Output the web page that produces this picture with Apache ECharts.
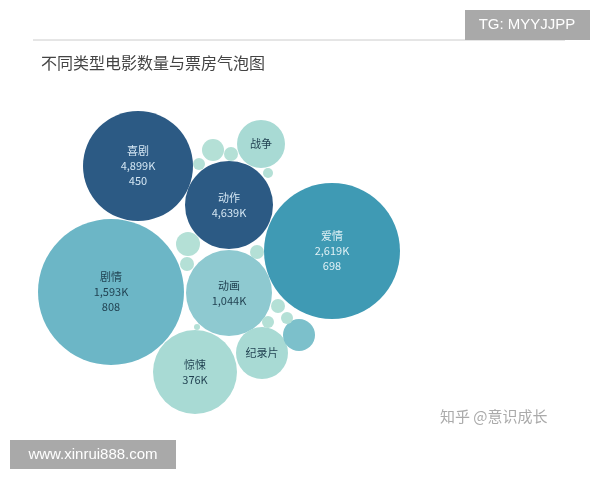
<!DOCTYPE html>
<html><head><meta charset="utf-8">
<script src="https://cdn.jsdelivr.net/npm/echarts@6/dist/echarts.min.js"></script>
<style>html,body{margin:0;background:#fff}#c{width:600px;height:480px}</style>
</head><body><div id="c"></div>
<script>
// genre bubbles: name, box office text, count text
const names = ['喜剧', '动作', '战争', '爱情', '剧情', '动画', '惊悚', '纪录片', '', '', '', '', '', '', '', '', '', '', '', ''];
const boxOffice = ['4,899K', '4,639K', '', '2,619K', '1,593K', '1,044K', '376K', '', '', '', '', '', '', '', '', '', '', '', '', ''];
const counts = ['450', '', '', '698', '808', '', '', '', '', '', '', '', '', '', '', '', '', '', '', ''];
// packed layout positions (chart units) and radii
const posX = [138, 229, 261, 332, 111, 229, 195, 262, 299, 213, 231, 199, 268, 188, 187, 257, 278, 287, 268, 197];
const posY = [166, 205, 144, 251, 292, 293, 372, 353, 335, 150, 154, 164, 173, 244, 264, 252, 306, 318, 322, 327];
const radius = [55, 44, 24, 68, 73, 43, 42, 26, 16, 11, 7, 6, 5, 12, 7, 7, 7, 6, 6, 3];
const colors = ['#2c5a84', '#2c5a84', '#a8dad4', '#3f9ab4', '#6cb6c6', '#8ec9d0', '#a8dad4', '#a8dad4', '#7cc0cb',
  '#b4e0d6', '#b4e0d6', '#b4e0d6', '#b4e0d6', '#b4e0d6', '#b4e0d6', '#b4e0d6', '#b4e0d6', '#b4e0d6', '#b4e0d6', '#b4e0d6'];

const data = names.map((n, i) => ({
  value: [posX[i], posY[i]],
  symbolSize: radius[i] * 2,
  itemStyle: { color: colors[i], opacity: 1 },
  label: {
    show: !!n,
    formatter: [n, boxOffice[i], counts[i]].filter(Boolean).join('\n'),
    color: colors[i] === '#2c5a84' ? '#d4e6f3' : (colors[i] === '#3f9ab4' ? '#e0f1f5' : '#1f3f4f')
  }
}));

const chart = echarts.init(document.getElementById('c'));
chart.setOption({
  animation: false,
  grid: { left: 0, right: 0, top: 0, bottom: 0 },
  xAxis: { type: 'value', min: 0, max: 600, show: false },
  yAxis: { type: 'value', min: 0, max: 480, inverse: true, show: false },
  title: {
    text: '不同类型电影数量与票房气泡图', left: 36, top: 50,
    textStyle: { fontSize: 16, fontWeight: 'normal', color: '#444', fontFamily: 'Noto Sans CJK SC' }
  },
  graphic: [
    { type: 'line', shape: { x1: 33, y1: 40, x2: 565, y2: 40 }, style: { stroke: '#ccc', lineWidth: 1 } },
    { type: 'rect', shape: { x: 465, y: 10, width: 125, height: 30 }, style: { fill: '#a9a9a9' } },
    { type: 'text', x: 527, y: 25, style: { text: 'TG: MYYJJPP', fill: '#fff', font: '15px "Liberation Sans"', align: 'center', verticalAlign: 'middle' } },
    { type: 'rect', shape: { x: 10, y: 440, width: 166, height: 29 }, style: { fill: '#a9a9a9' } },
    { type: 'text', x: 93, y: 455, style: { text: 'www.xinrui888.com', fill: '#fff', font: '15px "Liberation Sans"', align: 'center', verticalAlign: 'middle' } },
    { type: 'text', x: 440, y: 416, style: { text: '知乎 @意识成长', fill: '#aaa', font: '15px "Noto Sans CJK SC"', verticalAlign: 'middle' } }
  ],
  series: [{
    type: 'scatter',
    symbol: 'circle',
    data: data,
    label: { position: 'inside', fontSize: 11, lineHeight: 15, fontFamily: 'Noto Sans CJK SC' }
  }]
});
</script></body></html>
